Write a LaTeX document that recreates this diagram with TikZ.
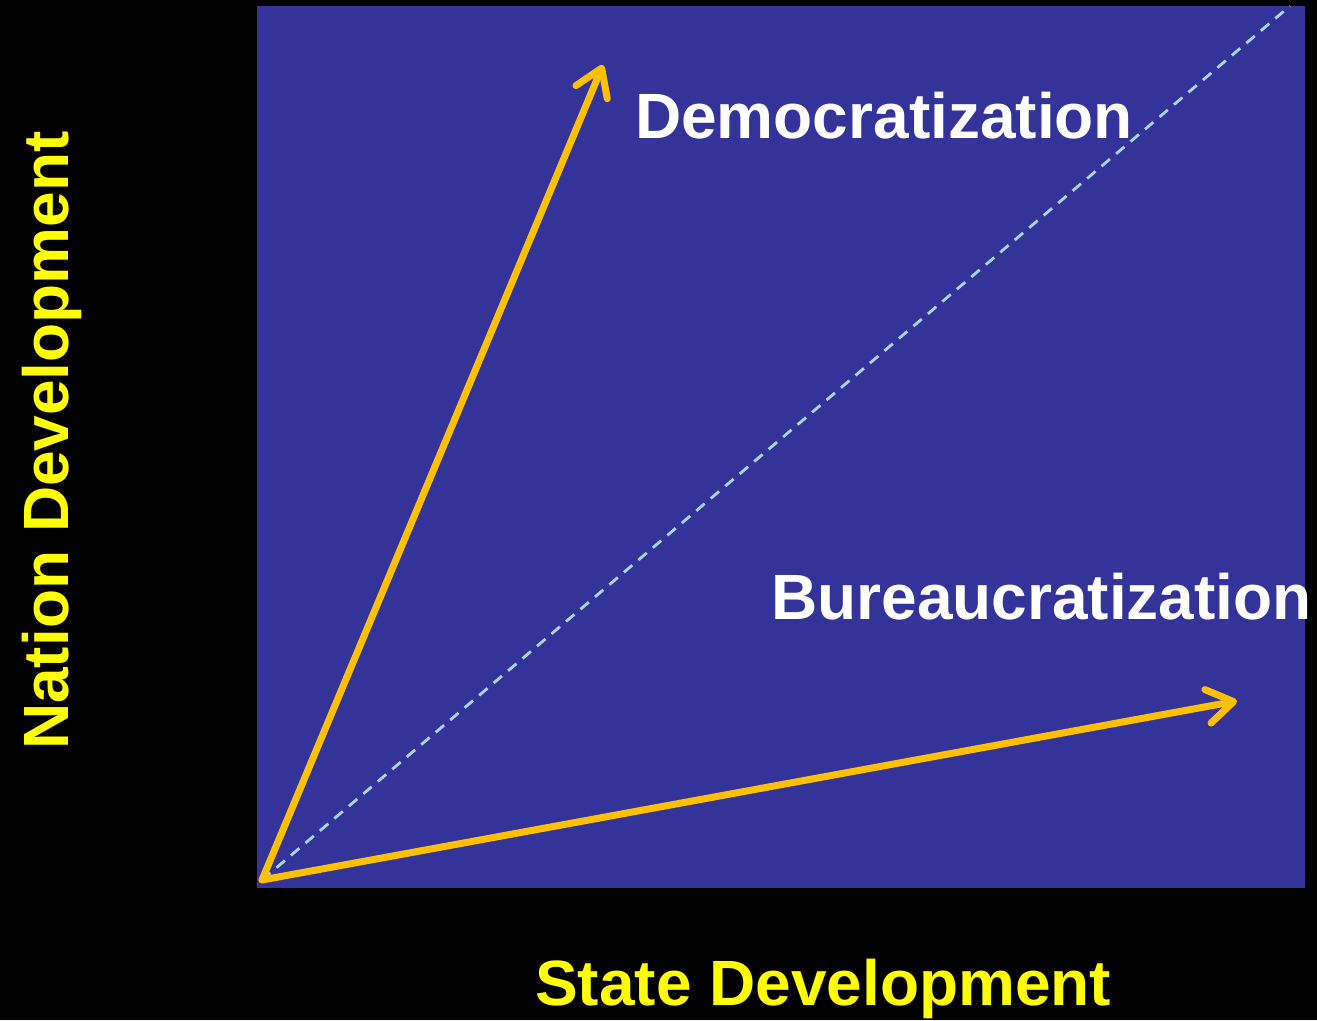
\documentclass[tikz,border=0pt]{standalone}
\usepackage{fontspec}
\setmainfont{Liberation Sans}
\usetikzlibrary{arrows.meta}
\definecolor{bgblue}{HTML}{333399}
\definecolor{arrowc}{HTML}{FFC000}
\definecolor{dashc}{HTML}{A8D4E6}
\definecolor{labely}{HTML}{FFFF00}
\begin{document}
\begin{tikzpicture}[x=1pt,y=1pt,
  bigtext/.style={inner sep=0pt,font=\fontsize{64}{76}\selectfont\bfseries},
  devarrow/.style={draw=arrowc,line width=7pt,line cap=round,
    -{Straight Barb[length=26pt,width=34pt,round]}},
  diag/.style={draw=dashc,line width=2.8pt,dash pattern=on 11pt off 8pt}]
\fill[black] (0,0) rectangle (1317,1020);
\useasboundingbox (0,0) rectangle (1317,1020);
\fill[bgblue] (257,132) rectangle (1305,1014);
\coordinate (O) at (262,140);
\coordinate (Dt) at (603,955);
\coordinate (Bt) at (1237,319);
\coordinate (Ct) at (1290,1014);
\draw[diag] (O) -- (Ct);
\draw[devarrow] (O) -- (Dt);
\draw[devarrow] (O) -- (Bt);
\node[bigtext,white,anchor=base west] (dem) at (635,881) {Democratization};
\node[bigtext,white,anchor=base west] (bur) at (771,400) {Bureaucratization};
\node[bigtext,labely,anchor=base west] (state) at (535,15) {State Development};
\node[bigtext,labely,anchor=base west,rotate=90] (nation) at (68,270) {Nation Development};
\end{tikzpicture}
\end{document}
